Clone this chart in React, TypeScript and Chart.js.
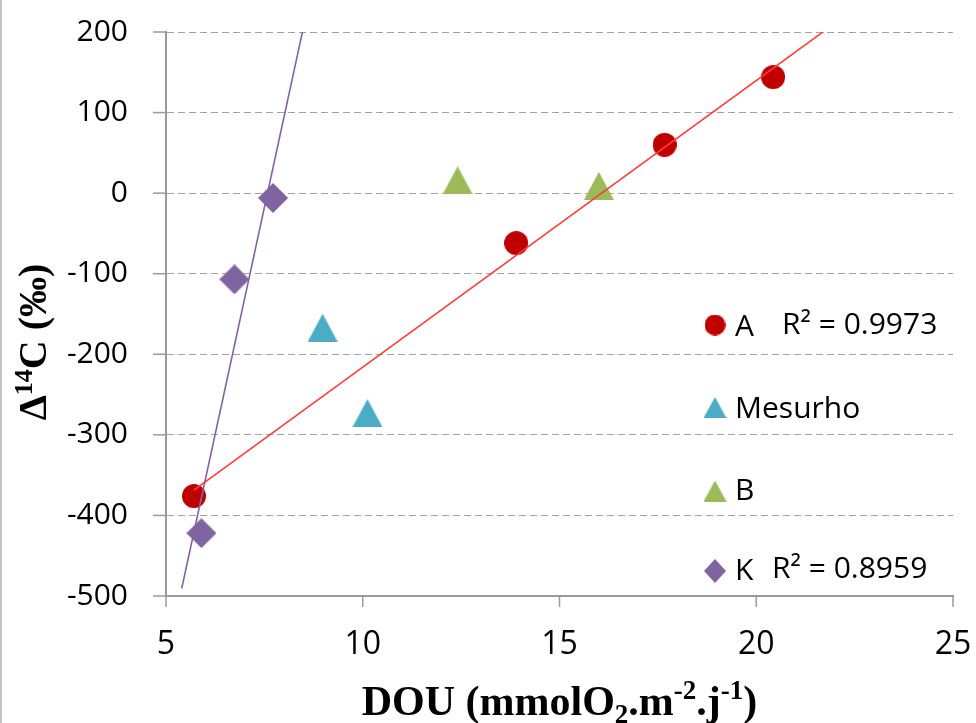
import React, { useEffect, useRef } from "react";
import { Chart, registerables } from "chart.js";

Chart.register(...registerables);

// ---- axes ----
const X_MIN = 5;
const X_MAX = 25;
const X_STEP = 5;
const Y_MIN = -500;
const Y_MAX = 200;
const Y_STEP = 100;

// ---- data ----
const seriesNames = ["A", "Mesurho", "B", "K"];
const aX = [5.71, 13.9, 17.67, 20.43];
const aY = [-376, -62, 60, 144];
const mesurhoX = [8.98, 10.12];
const mesurhoY = [-167, -273];
const bX = [12.41, 16.0];
const bY = [16, 9];
const kX = [5.9, 6.74, 7.72];
const kY = [-422, -107, -6];
const r2Labels = ["R² = 0.9973", "", "", "R² = 0.8959"];
const kBackcast = 0.5;

// ---- style ----
const COLORS = ["#c00000", "#4bacc6", "#9bbb59", "#8064a2"];
const TREND_A_COLOR = "#ff3b3b";
const TREND_K_COLOR = "#8064a2";
const AXIS_COLOR = "#9a9a9a";
const GRID_COLOR = "#a3a3a3";
const SANS = "'Open Sans', 'Liberation Sans', sans-serif";
const SERIF = "'Liberation Serif', 'Times New Roman', serif";

function linFit(xs: number[], ys: number[]) {
  const n = xs.length;
  const mx = xs.reduce((s, v) => s + v, 0) / n;
  const my = ys.reduce((s, v) => s + v, 0) / n;
  let sxy = 0;
  let sxx = 0;
  for (let i = 0; i < n; i++) {
    sxy += (xs[i] - mx) * (ys[i] - my);
    sxx += (xs[i] - mx) * (xs[i] - mx);
  }
  const slope = sxy / sxx;
  return { slope, intercept: my - slope * mx };
}

function trendPoints(xs: number[], ys: number[], x0: number, x1: number) {
  const f = linFit(xs, ys);
  return [
    { x: x0, y: f.slope * x0 + f.intercept },
    { x: x1, y: f.slope * x1 + f.intercept },
  ];
}

function toPts(xs: number[], ys: number[]) {
  return xs.map((x, i) => ({ x, y: ys[i] }));
}

function makeMarker(kind: string, color: string, w: number, h: number) {
  const c = document.createElement("canvas");
  c.width = w;
  c.height = h;
  const g = c.getContext("2d")!;
  g.fillStyle = color;
  g.beginPath();
  if (kind === "circle") {
    g.arc(w / 2, h / 2, Math.min(w, h) / 2, 0, Math.PI * 2);
  } else if (kind === "triangle") {
    g.moveTo(w / 2, 0);
    g.lineTo(w, h);
    g.lineTo(0, h);
    g.closePath();
  } else {
    g.moveTo(w / 2, 0);
    g.lineTo(w, h / 2);
    g.lineTo(w / 2, h);
    g.lineTo(0, h / 2);
    g.closePath();
  }
  g.fill();
  return c;
}

type Seg = { t: string; size: number; dy: number };

function drawSegs(ctx: CanvasRenderingContext2D, segs: Seg[], cx: number, baseY: number) {
  let total = 0;
  const widths = segs.map((s) => {
    ctx.font = `bold ${s.size}px ${SERIF}`;
    const w = ctx.measureText(s.t).width;
    total += w;
    return w;
  });
  let x = cx - total / 2;
  segs.forEach((s, i) => {
    ctx.font = `bold ${s.size}px ${SERIF}`;
    ctx.fillText(s.t, x, baseY + s.dy);
    x += widths[i];
  });
}

export default function App() {
  const ref = useRef<HTMLCanvasElement | null>(null);

  useEffect(() => {
    if (!ref.current) return;
    const markerKinds = ["circle", "triangle", "triangle", "diamond"];
    const bigSizes = [
      [24, 24],
      [30, 28],
      [30, 28],
      [30, 30],
    ];
    const smallSizes = [
      [21, 21],
      [23, 21],
      [23, 21],
      [22, 24],
    ];
    const bigMarkers = markerKinds.map((k, i) => makeMarker(k, COLORS[i], bigSizes[i][0], bigSizes[i][1]));
    const smallMarkers = markerKinds.map((k, i) => makeMarker(k, COLORS[i], smallSizes[i][0], smallSizes[i][1]));

    const seriesX = [aX, mesurhoX, bX, kX];
    const seriesY = [aY, mesurhoY, bY, kY];

    const trendA = trendPoints(aX, aY, Math.min(...aX), X_MAX);
    const trendK = trendPoints(kX, kY, Math.min(...kX) - kBackcast, X_MAX);

    const decor = {
      id: "decor",
      beforeDraw(chart: any) {
        const ctx = chart.ctx as CanvasRenderingContext2D;
        ctx.save();
        ctx.fillStyle = "#ffffff";
        ctx.fillRect(0, 0, chart.width, chart.height);
        ctx.strokeStyle = "#c4c4c4";
        ctx.lineWidth = 2;
        ctx.beginPath();
        ctx.moveTo(1, 0);
        ctx.lineTo(1, chart.height);
        ctx.stroke();
        ctx.restore();
      },
      afterDraw(chart: any) {
        const ctx = chart.ctx as CanvasRenderingContext2D;
        const area = chart.chartArea;
        const xs = chart.scales.x;
        const ys = chart.scales.y;
        ctx.save();
        // tick marks
        ctx.strokeStyle = AXIS_COLOR;
        ctx.lineWidth = 1.5;
        ys.ticks.forEach((t: any) => {
          const py = ys.getPixelForValue(t.value);
          ctx.beginPath();
          ctx.moveTo(area.left - 13, py);
          ctx.lineTo(area.left, py);
          ctx.stroke();
        });
        xs.ticks.forEach((t: any) => {
          const px = xs.getPixelForValue(t.value);
          ctx.beginPath();
          ctx.moveTo(px, area.bottom);
          ctx.lineTo(px, area.bottom + 11);
          ctx.stroke();
        });

        // axis titles
        ctx.fillStyle = "#000000";
        ctx.textBaseline = "alphabetic";
        ctx.textAlign = "left";
        const cx = (area.left + area.right) / 2;
        drawSegs(
          ctx,
          [
            { t: "DOU (mmolO", size: 42, dy: 0 },
            { t: "2", size: 27, dy: 8 },
            { t: ".m", size: 42, dy: 0 },
            { t: "-2", size: 27, dy: -16 },
            { t: ".j", size: 42, dy: 0 },
            { t: "-1", size: 27, dy: -16 },
            { t: ")", size: 42, dy: 0 },
          ],
          cx,
          715
        );
        ctx.save();
        ctx.translate(46, 342);
        ctx.rotate(-Math.PI / 2);
        drawSegs(
          ctx,
          [
            { t: "Δ", size: 40, dy: 0 },
            { t: "14", size: 26, dy: -14 },
            { t: "C (‰)", size: 40, dy: 0 },
          ],
          0,
          0
        );
        ctx.restore();

        // legend
        const rowsY = [325, 407.5, 491, 571];
        const baseY = [336, 418, 500, 580];
        const r2X = [782, 0, 0, 772];
        ctx.font = `30px ${SANS}`;
        seriesNames.forEach((name, i) => {
          const m = smallMarkers[i];
          ctx.drawImage(m, 715 - m.width / 2, rowsY[i] - m.height / 2);
          ctx.fillStyle = "#000000";
          ctx.fillText(name, 735, baseY[i]);
          if (r2Labels[i]) ctx.fillText(r2Labels[i], r2X[i], baseY[i] - 2);
        });
        ctx.restore();
      },
    };

    const chart = new Chart(ref.current, {
      type: "scatter",
      data: {
        datasets: [
          {
            label: "Linear (A)",
            data: trendA,
            showLine: true,
            borderColor: TREND_A_COLOR,
            borderWidth: 1.6,
            pointRadius: 0,
          } as any,
          {
            label: "Linear (K)",
            data: trendK,
            showLine: true,
            borderColor: TREND_K_COLOR,
            borderWidth: 1.6,
            pointRadius: 0,
          } as any,
          ...seriesNames.map((name, i) => ({
            label: name,
            data: toPts(seriesX[i], seriesY[i]),
            pointStyle: bigMarkers[i],
            pointRadius: 12,
            backgroundColor: COLORS[i],
            borderColor: COLORS[i],
          })),
        ],
      },
      options: {
        responsive: false,
        animation: false,
        events: [],
        layout: { padding: { left: 0, top: 32, right: 23, bottom: 0 } },
        plugins: {
          legend: { display: false },
          tooltip: { enabled: false },
        },
        scales: {
          x: {
            type: "linear",
            min: X_MIN,
            max: X_MAX,
            ticks: {
              stepSize: X_STEP,
              color: "#000000",
              font: { family: SANS, size: 32 },
              padding: 4,
            },
            grid: { display: false, drawTicks: true, tickLength: 26 },
            border: { display: true, color: AXIS_COLOR, width: 2 },
            afterFit: (s: any) => {
              s.height = 127;
            },
          },
          y: {
            type: "linear",
            min: Y_MIN,
            max: Y_MAX,
            ticks: {
              stepSize: Y_STEP,
              color: "#000000",
              font: { family: SANS, size: 30 },
              padding: 8,
            },
            grid: {
              drawTicks: true,
              tickLength: 30,
              tickColor: "rgba(0,0,0,0)",
              lineWidth: 1,
              color: (c: any) => (c.tick && c.tick.value === Y_MIN ? "rgba(0,0,0,0)" : GRID_COLOR),
            },
            border: { display: true, color: AXIS_COLOR, width: 2, dash: [7, 4] },
            afterFit: (s: any) => {
              s.width = 166;
            },
          },
        },
      },
      plugins: [decor],
    } as any);

    return () => chart.destroy();
  }, []);

  return (
    <div style={{ position: "absolute", left: 0, top: 0, width: 976, height: 723, background: "#fff" }}>
      <canvas ref={ref} width={976} height={723} />
    </div>
  );
}
